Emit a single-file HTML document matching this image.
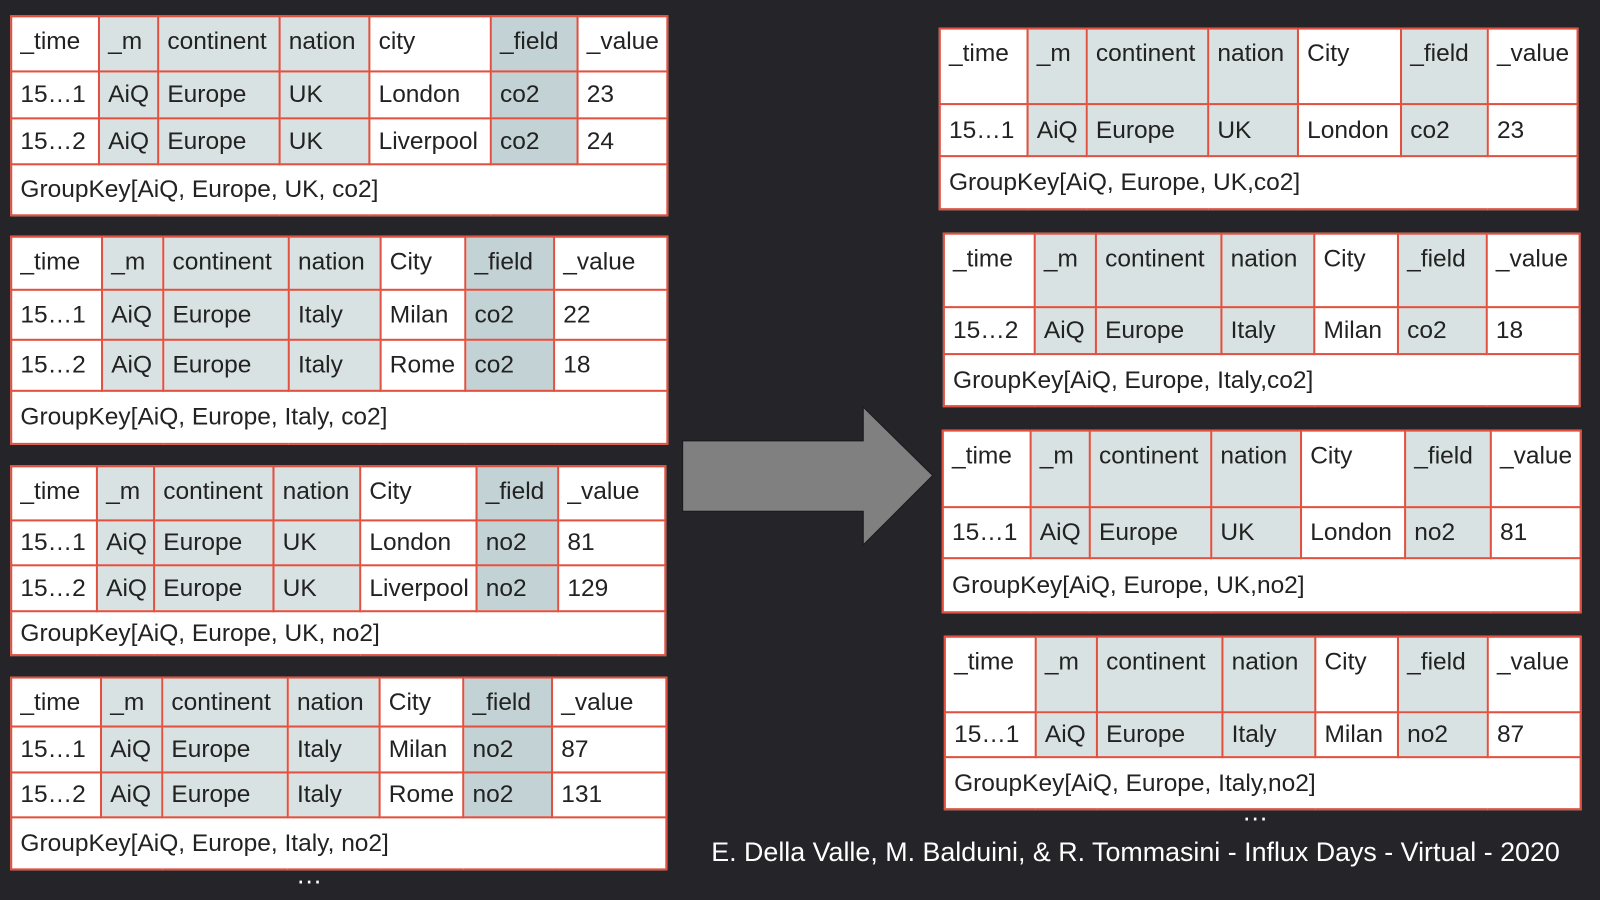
<!DOCTYPE html>
<html><head><meta charset="utf-8"><style>
html,body{margin:0;padding:0;background:#252529;width:1600px;height:900px;overflow:hidden}
#c{position:absolute;left:0;top:0;width:1568px;height:882px;transform:scale(1.020408);transform-origin:0 0;font-family:"Liberation Sans",sans-serif;}
table{position:absolute;border-collapse:collapse;table-layout:fixed;background:#fff;font-size:24px;color:#222}
td{border:2px solid #e2513f;padding:0 0 0 8px;white-space:nowrap;overflow:hidden;vertical-align:middle}
tr.h td{vertical-align:top;padding-top:10px}
.s{background:#d9e2e2}.f{background:#c3d2d5}
.dots{position:absolute;color:#fff;font-size:26px;letter-spacing:2px}
</style></head><body><div id="c">

<table style="left:10px;top:15px;width:643px">
<colgroup><col style="width:86px"><col style="width:58px"><col style="width:119px"><col style="width:88px"><col style="width:119px"><col style="width:85px"><col style="width:88px"></colgroup>
<tr class="h" style="height:54px"><td>_time</td><td class="s">_m</td><td class="s">continent</td><td class="s">nation</td><td>city</td><td class="f">_field</td><td>_value</td></tr>
<tr style="height:46px"><td>15…1</td><td class="s">AiQ</td><td class="s">Europe</td><td class="s">UK</td><td>London</td><td class="f">co2</td><td>23</td></tr>
<tr style="height:45px"><td>15…2</td><td class="s">AiQ</td><td class="s">Europe</td><td class="s">UK</td><td>Liverpool</td><td class="f">co2</td><td>24</td></tr>
<tr style="height:50px"><td colspan="7">GroupKey[AiQ, Europe, UK, co2]</td></tr>
</table>

<table style="left:10px;top:231px;width:643px">
<colgroup><col style="width:89px"><col style="width:60px"><col style="width:123px"><col style="width:90px"><col style="width:83px"><col style="width:87px"><col style="width:111px"></colgroup>
<tr class="h" style="height:52px"><td>_time</td><td class="s">_m</td><td class="s">continent</td><td class="s">nation</td><td>City</td><td class="f">_field</td><td>_value</td></tr>
<tr style="height:49px"><td>15…1</td><td class="s">AiQ</td><td class="s">Europe</td><td class="s">Italy</td><td>Milan</td><td class="f">co2</td><td>22</td></tr>
<tr style="height:50px"><td>15…2</td><td class="s">AiQ</td><td class="s">Europe</td><td class="s">Italy</td><td>Rome</td><td class="f">co2</td><td>18</td></tr>
<tr style="height:52px"><td colspan="7">GroupKey[AiQ, Europe, Italy, co2]</td></tr>
</table>

<table style="left:10px;top:456px;width:641px">
<colgroup><col style="width:84px"><col style="width:56px"><col style="width:117px"><col style="width:85px"><col style="width:114px"><col style="width:80px"><col style="width:105px"></colgroup>
<tr class="h" style="height:53px"><td>_time</td><td class="s">_m</td><td class="s">continent</td><td class="s">nation</td><td>City</td><td class="f">_field</td><td>_value</td></tr>
<tr style="height:44px"><td>15…1</td><td class="s">AiQ</td><td class="s">Europe</td><td class="s">UK</td><td>London</td><td class="f">no2</td><td>81</td></tr>
<tr style="height:45px"><td>15…2</td><td class="s">AiQ</td><td class="s">Europe</td><td class="s">UK</td><td>Liverpool</td><td class="f">no2</td><td>129</td></tr>
<tr style="height:43px"><td colspan="7">GroupKey[AiQ, Europe, UK, no2]</td></tr>
</table>

<table style="left:10px;top:663px;width:642px">
<colgroup><col style="width:88px"><col style="width:60px"><col style="width:123px"><col style="width:90px"><col style="width:82px"><col style="width:87px"><col style="width:112px"></colgroup>
<tr class="h" style="height:48px"><td>_time</td><td class="s">_m</td><td class="s">continent</td><td class="s">nation</td><td>City</td><td class="f">_field</td><td>_value</td></tr>
<tr style="height:45px"><td>15…1</td><td class="s">AiQ</td><td class="s">Europe</td><td class="s">Italy</td><td>Milan</td><td class="f">no2</td><td>87</td></tr>
<tr style="height:44px"><td>15…2</td><td class="s">AiQ</td><td class="s">Europe</td><td class="s">Italy</td><td>Rome</td><td class="f">no2</td><td>131</td></tr>
<tr style="height:51px"><td colspan="7">GroupKey[AiQ, Europe, Italy, no2]</td></tr>
</table>
<div class="dots" style="left:290px;top:842px">…</div>

<svg style="position:absolute;left:0;top:0" width="1568" height="882"><polygon points="669,432 846,432 846,399 914,466 846,534 846,501 669,501" fill="#808080" stroke="#1a1a1e" stroke-width="1"/></svg>

<table style="left:920px;top:27px;width:625px">
<colgroup><col style="width:86px"><col style="width:58px"><col style="width:119px"><col style="width:88px"><col style="width:101px"><col style="width:85px"><col style="width:88px"></colgroup>
<tr class="h" style="height:74px"><td>_time</td><td class="s">_m</td><td class="s">continent</td><td class="s">nation</td><td>City</td><td class="s">_field</td><td>_value</td></tr>
<tr style="height:51px"><td>15…1</td><td class="s">AiQ</td><td class="s">Europe</td><td class="s">UK</td><td>London</td><td class="s">co2</td><td>23</td></tr>
<tr style="height:52px"><td colspan="7">GroupKey[AiQ, Europe, UK,co2]</td></tr>
</table>

<table style="left:924px;top:228px;width:623px">
<colgroup><col style="width:89px"><col style="width:60px"><col style="width:123px"><col style="width:91px"><col style="width:82px"><col style="width:87px"><col style="width:91px"></colgroup>
<tr class="h" style="height:72px"><td>_time</td><td class="s">_m</td><td class="s">continent</td><td class="s">nation</td><td>City</td><td class="s">_field</td><td>_value</td></tr>
<tr style="height:46px"><td>15…2</td><td class="s">AiQ</td><td class="s">Europe</td><td class="s">Italy</td><td>Milan</td><td class="s">co2</td><td>18</td></tr>
<tr style="height:51px"><td colspan="7">GroupKey[AiQ, Europe, Italy,co2]</td></tr>
</table>

<table style="left:923px;top:421px;width:625px">
<colgroup><col style="width:86px"><col style="width:58px"><col style="width:119px"><col style="width:88px"><col style="width:102px"><col style="width:84px"><col style="width:88px"></colgroup>
<tr class="h" style="height:75px"><td>_time</td><td class="s">_m</td><td class="s">continent</td><td class="s">nation</td><td>City</td><td class="s">_field</td><td>_value</td></tr>
<tr style="height:50px"><td>15…1</td><td class="s">AiQ</td><td class="s">Europe</td><td class="s">UK</td><td>London</td><td class="s">no2</td><td>81</td></tr>
<tr style="height:53px"><td colspan="7">GroupKey[AiQ, Europe, UK,no2]</td></tr>
</table>

<table style="left:925px;top:623px;width:623px">
<colgroup><col style="width:89px"><col style="width:60px"><col style="width:123px"><col style="width:91px"><col style="width:81px"><col style="width:88px"><col style="width:91px"></colgroup>
<tr class="h" style="height:74px"><td>_time</td><td class="s">_m</td><td class="s">continent</td><td class="s">nation</td><td>City</td><td class="s">_field</td><td>_value</td></tr>
<tr style="height:44px"><td>15…1</td><td class="s">AiQ</td><td class="s">Europe</td><td class="s">Italy</td><td>Milan</td><td class="s">no2</td><td>87</td></tr>
<tr style="height:51px"><td colspan="7">GroupKey[AiQ, Europe, Italy,no2]</td></tr>
</table>
<div class="dots" style="left:1217px;top:780px">…</div>

<div style="position:absolute;left:697px;top:820px;color:#fff;font-size:26.3px;white-space:nowrap">E. Della Valle, M. Balduini, &amp; R. Tommasini - Influx Days - Virtual - 2020</div>
</div></body></html>
